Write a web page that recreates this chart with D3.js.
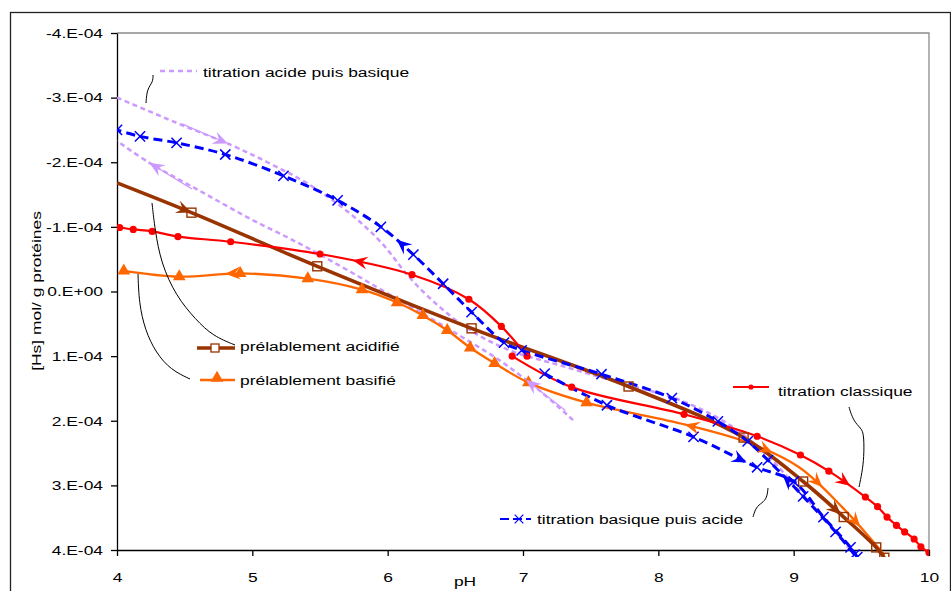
<!DOCTYPE html>
<html lang="fr">
<head>
<meta charset="UTF-8">
<title>Titration des groupes [Hs]</title>
<script src="https://d3js.org/d3.v7.min.js"></script>
<style>
  body { margin: 0; background: #fff; }
  svg { display: block; font-family: "Liberation Sans", Arial, sans-serif; }
  .axis text { font-size: 13.5px; fill: #000; }
  .axis path, .axis line { stroke: #000; }
</style>
</head>
<body>
<svg id="chart" width="951" height="591"></svg>
<script>
// ticks
const phTicks = [4, 5, 6, 7, 8, 9, 10];
const hsTicks = [-4e-4, -3e-4, -2e-4, -1e-4, 0, 1e-4, 2e-4, 3e-4, 4e-4];

// [pH, Hs mol/g]
// titration classique : start near pH 7, one branch to acid, one to base
const classiqueAcide = [[7.03, 1.00e-4], [6.84, 0.54e-4], [6.60, 0.12e-4], [6.18, -0.26e-4], [5.50, -0.58e-4],
  [4.84, -0.77e-4], [4.45, -0.85e-4], [4.26, -0.93e-4], [4.12, -0.96e-4], [4.02, -0.99e-4]];
const classiqueBase = [[6.92, 1.00e-4], [7.36, 1.48e-4], [8.19, 1.90e-4], [8.73, 2.24e-4], [9.05, 2.53e-4],
  [9.26, 2.78e-4], [9.53, 3.18e-4], [9.62, 3.33e-4], [9.69, 3.49e-4], [9.76, 3.62e-4], [9.82, 3.72e-4],
  [9.89, 3.83e-4], [9.94, 3.95e-4], [10.0, 4.04e-4]];

// titration basique puis acide
const basiqueAller = [[7.16, 1.27e-4], [7.62, 1.76e-4], [8.26, 2.25e-4], [8.73, 2.72e-4], [9.00, 2.94e-4],
  [9.22, 3.49e-4], [9.42, 3.96e-4], [9.47, 4.11e-4]];
const basiqueRetour = [[9.45, 4.07e-4], [9.31, 3.72e-4], [9.07, 3.17e-4], [8.81, 2.61e-4], [8.66, 2.32e-4],
  [8.44, 2.01e-4], [8.10, 1.65e-4], [7.58, 1.28e-4], [6.99, 0.91e-4], [6.86, 0.79e-4], [6.62, 0.32e-4],
  [6.41, -0.12e-4], [6.19, -0.57e-4], [5.95, -1.00e-4], [5.63, -1.41e-4], [5.23, -1.79e-4],
  [4.80, -2.12e-4], [4.44, -2.30e-4], [4.17, -2.40e-4], [4.00, -2.50e-4]];

// titration acide puis basique (no markers)
const acideAller = [[7.37, 1.99e-4], [7.12, 1.53e-4], [6.83, 1.07e-4], [6.53, 0.68e-4], [6.24, 0.32e-4],
  [5.96, -0.02e-4], [5.67, -0.37e-4], [5.35, -0.74e-4], [4.98, -1.13e-4], [4.61, -1.56e-4],
  [4.24, -1.99e-4], [4.00, -2.33e-4]];
const acideRetour = [[4.00, -3.00e-4], [4.44, -2.61e-4], [4.85, -2.26e-4], [5.13, -1.98e-4], [5.40, -1.68e-4],
  [5.72, -1.21e-4], [5.96, -0.74e-4], [6.16, -0.22e-4], [6.39, 0.25e-4], [6.61, 0.60e-4], [6.90, 0.91e-4],
  [7.27, 1.14e-4], [7.71, 1.41e-4], [8.16, 1.68e-4], [8.53, 2.07e-4], [8.82, 2.57e-4], [9.04, 3.08e-4],
  [9.27, 3.62e-4], [9.45, 4.08e-4]];

// préalablement acidifié
const prealAcidifie = [[4.00, -1.68e-4], [4.55, -1.22e-4], [5.48, -0.39e-4], [6.62, 0.57e-4], [7.78, 1.47e-4],
  [8.63, 2.26e-4], [9.07, 2.94e-4], [9.37, 3.49e-4], [9.61, 3.96e-4], [9.67, 4.12e-4]];

// préalablement basifié (triangles up to pH 7.5, plain line after)
const prealBasifie = [[4.05, -0.32e-4], [4.46, -0.23e-4], [4.91, -0.28e-4], [5.41, -0.20e-4], [5.81, -0.03e-4],
  [6.07, 0.17e-4], [6.26, 0.37e-4], [6.44, 0.60e-4], [6.61, 0.87e-4], [6.79, 1.11e-4], [7.04, 1.41e-4],
  [7.47, 1.72e-4]];
const prealBasifieSuite = [[8.20, 2.06e-4], [8.68, 2.35e-4], [9.04, 2.72e-4], [9.36, 3.34e-4], [9.64, 4.00e-4],
  [9.67, 4.08e-4]];

// direction arrows: branch, pH, +1 toward base / -1 toward acid
const arrows = [
  { line: "acideRetour", ph: 4.82, dir: 1 },
  { line: "acideAller", ph: 4.24, dir: -1 },
  { line: "acideAller", ph: 7.02, dir: -1 },
  { line: "basiqueRetour", ph: 6.07, dir: -1 },
  { line: "basiqueRetour", ph: 8.92, dir: -1 },
  { line: "basiqueAller", ph: 8.65, dir: 1 },
  { line: "classiqueAcide", ph: 5.74, dir: -1 },
  { line: "classiqueBase", ph: 9.42, dir: 1 },
  { line: "prealAcidifie", ph: 4.55, dir: 1 },
  { line: "prealAcidifie", ph: 9.35, dir: 1 },
  { line: "prealBasifie", ph: 4.80, dir: -1 },
  { line: "prealBasifie", ph: 8.20, dir: -1 },
  { line: "prealBasifie", ph: 8.84, dir: 1 },
  { line: "prealBasifie", ph: 9.21, dir: 1 },
  { line: "prealBasifie", ph: 9.49, dir: 1 }
];

const purple = "#CC99FF", blue = "#0000FF", brown = "#993300", orange = "#FF6600", red = "#FF0000";
const sx = 1.29; // the original text is wider than plain Arial

// plot area
const plotL = 117, plotR = 929, plotT = 33, plotB = 550;

const svg = d3.select("#chart");

const x = d3.scaleLinear().domain([4, 10]).range([plotL, plotR]);
const y = d3.scaleLinear().domain([-4e-4, 4e-4]).range([plotT, plotB]);

// outer border of the chart
svg.append("rect")
  .attr("x", 10.5).attr("y", 12.5).attr("width", 940).attr("height", 600)
  .attr("fill", "none").attr("stroke", "#222").attr("stroke-width", 1.3);

// gray frame top / right
svg.append("path")
  .attr("d", `M${plotL},${plotT}H${plotR}V${plotB}`)
  .attr("fill", "none").attr("stroke", "#8c8c8c").attr("stroke-width", 1.3);

const fmtHs = v => {
  const n = Math.round(v * 1e4);
  return n === 0 ? "0.E+00" : n + ".E-04";
};

const yAxis = svg.append("g").attr("class", "axis")
  .attr("transform", `translate(${plotL},0)`)
  .call(d3.axisLeft(y).tickValues(hsTicks).tickFormat(fmtHs).tickSize(6).tickSizeOuter(0));
yAxis.selectAll("text").attr("x", -14 / sx).attr("transform", `scale(${sx},1)`);

const xAxis = svg.append("g").attr("class", "axis")
  .attr("transform", `translate(0,${plotB})`)
  .call(d3.axisBottom(x).tickValues(phTicks).tickFormat(d3.format("d")).tickSize(6).tickSizeOuter(0).tickPadding(16));
xAxis.selectAll("text").attr("transform", `scale(${sx},1)`);
svg.selectAll(".axis path, .axis line").attr("stroke-width", 1.3);

// helper for stretched text
function label(px, py, str, anchor, rot) {
  return svg.append("text")
    .attr("transform", `translate(${px},${py}) rotate(${rot || 0}) scale(${sx},1)`)
    .attr("text-anchor", anchor || "start")
    .attr("dy", "0.35em")
    .attr("font-size", "13.5px")
    .text(str);
}

label(465, 581, "pH", "middle");
label(36, 291, "[Hs] mol/ g protéines", "middle", -90);

// clip: the curves run a little past the bottom axis, as in the original
svg.append("clipPath").attr("id", "plot")
  .append("rect").attr("x", plotL).attr("y", plotT).attr("width", plotR - plotL).attr("height", plotB - plotT + 7);

const plot = svg.append("g").attr("clip-path", "url(#plot)");

const line = d3.line().x(d => x(d[0])).y(d => y(d[1])).curve(d3.curveCatmullRom.alpha(0.5));

const lines = [
  { key: "acideAller", pts: acideAller, color: purple, width: 2.5, dash: "5,3.5" },
  { key: "acideRetour", pts: acideRetour, color: purple, width: 2.5, dash: "5,3.5" },
  { key: "prealBasifie", pts: prealBasifie.concat(prealBasifieSuite), color: orange, width: 2.3 },
  { key: "prealAcidifie", pts: prealAcidifie, color: brown, width: 3.6 },
  { key: "classiqueAcide", pts: classiqueAcide, color: red, width: 2.2 },
  { key: "classiqueBase", pts: classiqueBase, color: red, width: 2.2 },
  { key: "basiqueAller", pts: basiqueAller, color: blue, width: 3, dash: "9,5" },
  { key: "basiqueRetour", pts: basiqueRetour, color: blue, width: 3, dash: "9,5" }
];

const nodes = {};
lines.forEach(s => {
  nodes[s.key] = plot.append("path")
    .datum(s.pts)
    .attr("d", line)
    .attr("fill", "none")
    .attr("stroke", s.color)
    .attr("stroke-width", s.width)
    .attr("stroke-dasharray", s.dash || null)
    .node();
});

// markers
const tri = d3.symbol().type(d3.symbolTriangle).size(70);
const cross = d3.symbol().type(d3.symbolX).size(70);

plot.append("g").selectAll("path")
  .data(prealBasifie).join("path")
  .attr("transform", d => `translate(${x(d[0])},${y(d[1])})`)
  .attr("d", tri).attr("fill", orange);

plot.append("g").selectAll("rect")
  .data(prealAcidifie.slice(1)).join("rect")
  .attr("x", d => x(d[0]) - 4.5).attr("y", d => y(d[1]) - 4.5)
  .attr("width", 9).attr("height", 9)
  .attr("fill", "none").attr("stroke", brown).attr("stroke-width", 1.4);

plot.append("g").selectAll("circle")
  .data(classiqueAcide.concat(classiqueBase)).join("circle")
  .attr("cx", d => x(d[0])).attr("cy", d => y(d[1])).attr("r", 3.6)
  .attr("fill", red);

plot.append("g").selectAll("path")
  .data(basiqueAller.concat(basiqueRetour)).join("path")
  .attr("transform", d => `translate(${x(d[0])},${y(d[1])})`)
  .attr("d", cross).attr("fill", "none").attr("stroke", blue).attr("stroke-width", 1.5);

// arrowheads placed on the curves
const colorOf = {};
lines.forEach(s => colorOf[s.key] = s.color);
const head = "M0,0L-15,-6.5L-9.5,0L-15,6.5Z";

arrows.forEach(a => {
  const node = nodes[a.line];
  const total = node.getTotalLength();
  const tx = x(a.ph);
  let best = 0, bd = Infinity;
  for (let l = 0; l <= total; l += 1) {
    const p = node.getPointAtLength(l);
    const d = Math.abs(p.x - tx);
    if (d < bd) { bd = d; best = l; }
  }
  const p = node.getPointAtLength(best);
  const p1 = node.getPointAtLength(Math.max(0, best - 3));
  const p2 = node.getPointAtLength(Math.min(total, best + 3));
  let ang = Math.atan2(p2.y - p1.y, p2.x - p1.x) * 180 / Math.PI;
  if ((p2.x - p1.x) * a.dir < 0) ang += 180;
  const g = svg.append("g").attr("transform", `translate(${p.x},${p.y}) rotate(${ang})`);
  if (colorOf[a.line] === purple) {
    g.append("line").attr("x1", -50).attr("x2", -6).attr("y1", 0).attr("y2", 0)
      .attr("stroke", purple).attr("stroke-width", 1.3);
  }
  g.append("path").attr("d", head).attr("fill", colorOf[a.line]);
});

// legend labels with their callout lines
const callout = d3.line().curve(d3.curveBasis);
const callouts = [
  [[153, 75], [153, 82], [147, 89], [146, 103]],
  [[152, 203], [155, 230], [161, 263], [176, 296], [196, 320], [213, 336], [235, 345]],
  [[138, 274], [139, 303], [145, 330], [156, 353], [171, 370], [190, 379]],
  [[849, 407], [852, 417], [857, 425], [862, 429], [864, 437], [864, 457], [862, 473], [859, 487]],
  [[753, 517], [756, 507], [762, 503], [767, 498], [768, 488]]
];
svg.append("g").selectAll("path").data(callouts).join("path")
  .attr("d", callout).attr("fill", "none").attr("stroke", "#000").attr("stroke-width", 1);

// samples
svg.append("line").attr("x1", 160).attr("x2", 197).attr("y1", 71).attr("y2", 71)
  .attr("stroke", purple).attr("stroke-width", 2.5).attr("stroke-dasharray", "5,4");
label(203, 72, "titration acide puis basique");

svg.append("line").attr("x1", 197).attr("x2", 235).attr("y1", 348).attr("y2", 348)
  .attr("stroke", brown).attr("stroke-width", 3.5);
svg.append("rect").attr("x", 211).attr("y", 344).attr("width", 8).attr("height", 8)
  .attr("fill", "#fff").attr("stroke", brown).attr("stroke-width", 1.3);
label(240, 346, "prélablement acidifié");

svg.append("line").attr("x1", 200).attr("x2", 235).attr("y1", 380).attr("y2", 380)
  .attr("stroke", orange).attr("stroke-width", 2.3);
svg.append("path").attr("transform", "translate(217,378)").attr("d", tri).attr("fill", orange);
label(240, 380, "prélablement basifié");

svg.append("line").attr("x1", 733).attr("x2", 769).attr("y1", 387).attr("y2", 387)
  .attr("stroke", red).attr("stroke-width", 2);
svg.append("circle").attr("cx", 751).attr("cy", 387).attr("r", 2.6).attr("fill", red);
label(778, 391, "titration classique");

svg.append("line").attr("x1", 500).attr("x2", 531).attr("y1", 519).attr("y2", 519)
  .attr("stroke", blue).attr("stroke-width", 2).attr("stroke-dasharray", "9,4");
svg.append("path").attr("transform", "translate(519,519)").attr("d", d3.symbol().type(d3.symbolX).size(50))
  .attr("fill", "none").attr("stroke", blue).attr("stroke-width", 1.2);
label(537, 519, "titration basique puis acide");
</script>
</body>
</html>
